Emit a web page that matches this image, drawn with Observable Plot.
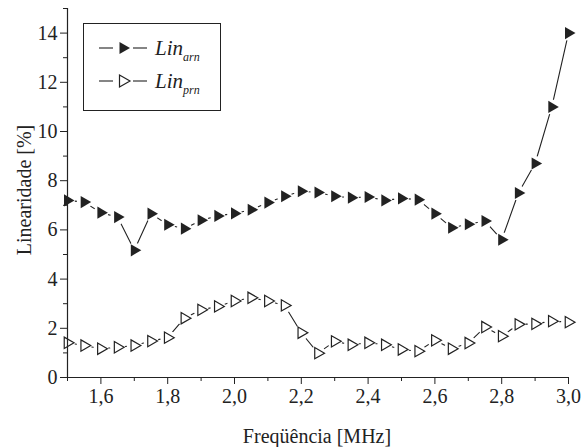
<!DOCTYPE html>
<html><head><meta charset="utf-8">
<script src="https://cdn.jsdelivr.net/npm/d3@7"></script>
<script src="https://cdn.jsdelivr.net/npm/@observablehq/plot@0.6"></script>
<style>
body{margin:0;background:#fff}
#wrap{position:relative;width:585px;height:447px;font-family:'Liberation Serif',serif;color:#222}
#wrap svg text{font-family:'Liberation Serif',serif}
.ttl{position:absolute;font-size:20px;white-space:nowrap;font-family:'Liberation Serif',serif}
</style>
</head><body><div id="wrap"></div>
<script>
const freq = [1.50,1.55,1.60,1.65,1.70,1.75,1.80,1.85,1.90,1.95,2.00,2.05,2.10,2.15,2.20,2.25,2.30,2.35,2.40,2.45,2.50,2.55,2.60,2.65,2.70,2.75,2.80,2.85,2.90,2.95,3.00];
const linArn = [7.20,7.13,6.70,6.52,5.17,6.66,6.21,6.05,6.39,6.57,6.67,6.82,7.11,7.37,7.57,7.52,7.37,7.31,7.34,7.20,7.28,7.23,6.66,6.09,6.23,6.36,5.60,7.50,8.70,11.0,14.0];
const linPrn = [1.41,1.30,1.17,1.23,1.30,1.48,1.62,2.41,2.75,2.89,3.11,3.24,3.11,2.93,1.82,0.99,1.47,1.33,1.41,1.33,1.14,1.07,1.51,1.17,1.40,2.05,1.68,2.16,2.18,2.29,2.25];
const xMajorTicks = [1.6,1.8,2.0,2.2,2.4,2.6,2.8,3.0];
const xMinorTicks = [1.5,1.7,1.9,2.1,2.3,2.5,2.7,2.9];
const yMajorTicks = [0,2,4,6,8,10,12,14];
const yMinorTicks = [1,3,5,7,9,11,13,15];
const seriesNames = ["Lin", "Lin"];
const seriesSubs = ["arn", "prn"];
const xTitle = "Freqüência [MHz]";
const yTitle = "Linearidade [%]";

const arn = freq.map((f,i)=>({f, v: linArn[i]}));
const prn = freq.map((f,i)=>({f, v: linPrn[i]}));
const all = arn.concat(prn);

const rightTri = {draw(ctx, size){
  const y = Math.sqrt(size/(Math.sqrt(3)*3));
  ctx.moveTo(2*y, 0);
  ctx.lineTo(-y, -Math.sqrt(3)*y);
  ctx.lineTo(-y, Math.sqrt(3)*y);
  ctx.closePath();
}};
const fmt = d => d.toFixed(1).replace(".", ",");

const chart = Plot.plot({
  width: 585, height: 447,
  marginLeft: 67, marginRight: 17, marginTop: 8, marginBottom: 70,
  style: {fontFamily: "'Liberation Serif', serif", fontSize: "20px", color: "#222", background: "white"},
  x: {domain: [1.5, 3.0]},
  y: {domain: [0, 15]},
  marks: [
    Plot.line(arn, {x: "f", y: "v", stroke: "#222", strokeWidth: 1.1}),
    Plot.line(prn, {x: "f", y: "v", stroke: "#222", strokeWidth: 1.1}),
    Plot.dot(all, {x: "f", y: "v", r: 7.5, fill: "white", stroke: "none"}),
    Plot.dot(arn, {x: "f", y: "v", symbol: rightTri, r: 4.5, fill: "#222", stroke: "none"}),
    Plot.dot(prn, {x: "f", y: "v", symbol: rightTri, r: 4.2, fill: "white", stroke: "#222", strokeWidth: 1.2}),
    Plot.axisX(xMajorTicks, {tickSize: 7, tickPadding: 4, tickFormat: fmt, label: null, strokeWidth: 1, fontSize: 20}),
    Plot.axisX(xMinorTicks, {tickSize: 4, tickFormat: () => "", label: null, strokeWidth: 1}),
    Plot.axisY(yMajorTicks, {tickSize: 7, tickPadding: 3, tickFormat: d => String(d), label: null, strokeWidth: 1, fontSize: 20}),
    Plot.axisY(yMinorTicks, {tickSize: 4, tickFormat: () => "", label: null, strokeWidth: 1}),
    Plot.ruleX([1.5], {stroke: "#222", strokeWidth: 1.2}),
    Plot.ruleY([0], {stroke: "#222", strokeWidth: 1.2})
  ]
});
const wrap = document.getElementById("wrap");
wrap.appendChild(chart);

const xt = document.createElement("div");
xt.className = "ttl"; xt.textContent = xTitle;
xt.style.left = "317px"; xt.style.top = "436px"; xt.style.transform = "translate(-50%,-50%)";
wrap.appendChild(xt);
const yt = document.createElement("div");
yt.className = "ttl"; yt.textContent = yTitle;
yt.style.left = "24px"; yt.style.top = "190px"; yt.style.transform = "translate(-50%,-50%) rotate(-90deg)";
wrap.appendChild(yt);

// legend
const ns = "http://www.w3.org/2000/svg";
const lg = document.createElementNS(ns, "svg");
lg.setAttribute("width", 140); lg.setAttribute("height", 90);
lg.style.position = "absolute"; lg.style.left = "83px"; lg.style.top = "23px";
let html = `<rect x="0.5" y="0.5" width="137" height="87" fill="white" stroke="#222" stroke-width="1"/>`;
const rows = [25, 58];
rows.forEach((cy, i) => {
  html += `<line x1="16" x2="30" y1="${cy}" y2="${cy}" stroke="#222" stroke-width="1.1"/>`;
  html += `<line x1="50" x2="64" y1="${cy}" y2="${cy}" stroke="#222" stroke-width="1.1"/>`;
  const y = 3.5;
  const d = `M${40+2*y},${cy} L${40-y},${cy-Math.sqrt(3)*y} L${40-y},${cy+Math.sqrt(3)*y} Z`;
  html += i === 0 ? `<path d="${d}" fill="#222"/>` : `<path d="${d}" fill="white" stroke="#222" stroke-width="1.2"/>`;
  html += `<text x="72" y="${cy+7}" font-family="Liberation Serif, serif" font-style="italic" font-size="21" fill="#222">${seriesNames[i]}<tspan font-size="12" dy="6">${seriesSubs[i]}</tspan></text>`;
});
lg.innerHTML = html;
wrap.appendChild(lg);
</script>
</body></html>
